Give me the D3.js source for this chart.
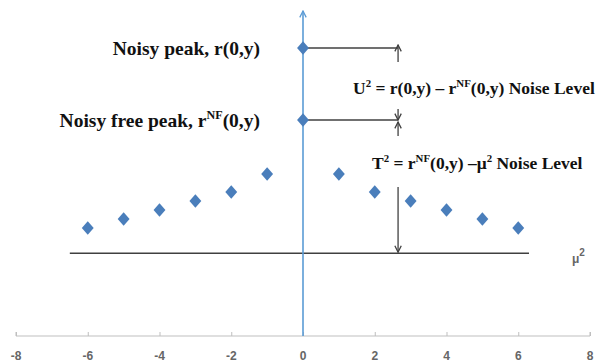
<!DOCTYPE html>
<html>
<head>
<meta charset="utf-8">
<script src="https://cdn.jsdelivr.net/npm/d3@7"></script>
<style>
  body { margin: 0; background: #fff; }
  .tick-label { font-family: "Liberation Sans", Arial, sans-serif; font-size: 12px; font-weight: bold; fill: #666; }
  .ann { font-family: "Liberation Serif", "Times New Roman", serif; font-weight: bold; fill: #111; }
</style>
</head>
<body>
<svg id="chart" width="598" height="362"></svg>
<script>
// data
const muX = [-6, -5, -4, -3, -2, -1, 1, 2, 3, 4, 5, 6];
const muY = [12, 13, 14, 15, 16, 18, 18, 16, 15, 14, 13, 12];
const peakNoisy = 32;
const peakNF = 24;
const muLevel = 9.2;
const muLine = [-6.5, 6.3];
const arrowX = 2.65;
const xTicks = [-8, -6, -4, -2, 0, 2, 4, 6, 8];

const width = 598, height = 362;
const x = d3.scaleLinear().domain([-8, 8]).range([16, 590]);
const y = d3.scaleLinear().domain([0, 36]).range([336, 12]);

const svg = d3.select("#chart");
const blue = "#5b9bd5", dot = "#4a7ebb", dark = "#404040";

const defs = svg.append("defs");
function marker(id, color) {
    defs.append("marker")
        .attr("id", id)
        .attr("viewBox", "0 0 10 10")
        .attr("refX", 9).attr("refY", 5)
        .attr("markerWidth", 8).attr("markerHeight", 8)
        .attr("markerUnits", "userSpaceOnUse")
        .attr("orient", "auto")
        .append("path")
        .attr("d", "M1,1 L9,5 L1,9")
        .attr("fill", "none")
        .attr("stroke", color)
        .attr("stroke-width", 1.6);
}
marker("arrBlue", blue);
marker("arrDark", dark);

// x axis
const xAxis = d3.axisTop(x).tickValues(xTicks).tickSize(4).tickFormat("");
const gx = svg.append("g").attr("transform", "translate(0," + y(0) + ")").call(xAxis);
gx.select(".domain").attr("stroke", "#bfbfbf").attr("d", "M" + x(-8) + ",-4V0H" + x(8) + "V-4");
gx.selectAll(".tick line").attr("stroke", "#bfbfbf");
svg.append("g").selectAll("text")
    .data(xTicks).enter().append("text")
    .attr("class", "tick-label")
    .attr("x", d => x(d))
    .attr("y", y(0) + 24)
    .attr("text-anchor", "middle")
    .text(d => d);

// mu^2 level line
svg.append("line")
    .attr("x1", x(muLine[0])).attr("x2", x(muLine[1]))
    .attr("y1", y(muLevel)).attr("y2", y(muLevel))
    .attr("stroke", dark).attr("stroke-width", 1.5);

// y axis
svg.append("line")
    .attr("x1", x(0)).attr("x2", x(0))
    .attr("y1", y(0)).attr("y2", y(36) - 1)
    .attr("stroke", blue).attr("stroke-width", 1.6)
    .attr("marker-end", "url(#arrBlue)");

// peak levels
[peakNoisy, peakNF].forEach(v => {
    svg.append("line")
        .attr("x1", x(0)).attr("x2", x(arrowX))
        .attr("y1", y(v)).attr("y2", y(v))
        .attr("stroke", dark).attr("stroke-width", 1.5);
});

function arrow(y1, y2) {
    svg.append("line")
        .attr("x1", x(arrowX)).attr("x2", x(arrowX))
        .attr("y1", y1).attr("y2", y2)
        .attr("stroke", dark).attr("stroke-width", 1.3)
        .attr("marker-end", "url(#arrDark)");
}
arrow(y(peakNoisy) + 14, y(peakNoisy) - 3);
arrow(y(peakNF) - 11, y(peakNF));
arrow(y(peakNF) + 16, y(peakNF) + 2);
arrow(y(peakNF) + 67, y(muLevel) - 1);

// points
const diamond = d3.symbol().type(d3.symbolDiamond).size(54);
svg.append("g").selectAll("path")
    .data(muX.map((d, i) => [d, muY[i]]))
    .enter().append("path")
    .attr("d", diamond)
    .attr("transform", d => "translate(" + x(d[0]) + "," + y(d[1]) + ") scale(1.5,1)")
    .attr("fill", dot);
[peakNoisy, peakNF].forEach(v => {
    svg.append("path").attr("d", diamond)
        .attr("transform", "translate(" + x(0) + "," + y(v) + ") scale(1.5,1)")
        .attr("fill", dot);
});

// annotations
function ann(tx, ty, size, anchor, parts) {
    const t = svg.append("text").attr("class", "ann")
        .attr("x", tx).attr("y", ty)
        .attr("font-size", size).attr("text-anchor", anchor);
    parts.forEach(p => {
        const s = t.append("tspan").text(p[0]);
        if (p[1] === "sup") s.attr("font-size", size * 0.62).attr("dy", -size * 0.4);
        if (p[1] === "back") s.attr("dy", size * 0.4);
    });
}
ann(260, y(peakNoisy) + 7, 19.5, "end", [["Noisy peak, r(0,y)"]]);
ann(260, y(peakNF) + 7, 19.5, "end", [["Noisy free peak, r"], ["NF", "sup"], ["(0,y)", "back"]]);
ann(353, 94, 17.5, "start", [["U"], ["2", "sup"], [" = r(0,y) \u2013 r", "back"], ["NF", "sup"], ["(0,y) Noise Level", "back"]]);
ann(372, 169, 17.5, "start", [["T"], ["2", "sup"], [" = r", "back"], ["NF", "sup"], ["(0,y) \u2013\u03bc", "back"], ["2", "sup"], [" Noise Level", "back"]]);

const mu = svg.append("text").attr("class", "tick-label")
    .attr("x", 572).attr("y", y(muLevel) + 10).attr("font-size", 14).attr("font-weight", "normal");
mu.append("tspan").text("\u03bc");
mu.append("tspan").text("2").attr("font-size", 10).attr("dy", -7);
</script>
</body>
</html>
